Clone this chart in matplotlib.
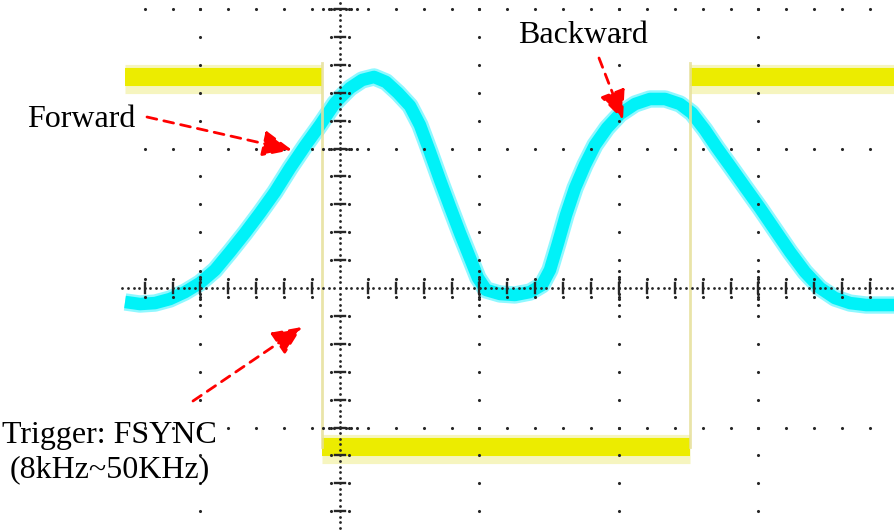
import numpy as np
import matplotlib
matplotlib.use("Agg")
import matplotlib.pyplot as plt
from matplotlib.patches import ArrowStyle

# ---------------- data (screen divisions) ----------------
# cyan trace (scan mirror position), x / y in divisions
cyan_x = [-1.541, -1.434, -1.326, -1.219, -1.111, -1.004, -0.896, -0.789, -0.681, -0.573,
          -0.466, -0.358, -0.251, -0.143, -0.036, 0.072, 0.158, 0.244, 0.330, 0.416,
          0.502, 0.573, 0.645, 0.717, 0.789, 0.860, 0.932, 0.989, 1.047, 1.147,
          1.254, 1.362, 1.448, 1.505, 1.563, 1.620, 1.685, 1.756, 1.828, 1.914,
          2.007, 2.115, 2.222, 2.330, 2.437, 2.523, 2.616, 2.703, 2.796, 2.903,
          3.011, 3.118, 3.226, 3.333, 3.441, 3.548, 3.656, 3.771, 3.990]
cyan_y = [-0.100, -0.115, -0.108, -0.079, -0.029, 0.036, 0.129, 0.258, 0.394, 0.538,
          0.688, 0.860, 1.018, 1.168, 1.326, 1.434, 1.491, 1.513, 1.477, 1.398,
          1.305, 1.168, 0.975, 0.774, 0.581, 0.394, 0.215, 0.072, -0.014, -0.043,
          -0.050, -0.029, 0.022, 0.129, 0.323, 0.523, 0.717, 0.882, 1.025, 1.147,
          1.247, 1.319, 1.355, 1.355, 1.319, 1.254, 1.133, 1.004, 0.875, 0.724,
          0.573, 0.416, 0.258, 0.115, 0.000, -0.072, -0.108, -0.122, -0.122]

# yellow trigger (FSYNC) square wave
yellow_high = 1.513
yellow_low = -1.140
yellow_start, yellow_fall, yellow_rise, yellow_end = -1.541, -0.13, 2.51, 3.99

labels = ["Forward", "Backward", "Trigger: FSYNC", "(8kHz~50KHz)"]

# ---------------- figure ----------------
W, H = 895, 531
PX = 139.5          # pixels per division
X0, Y0 = 340, 288   # pixel position of screen centre

fig = plt.figure(figsize=(W / 100, H / 100), dpi=100)
fig.patch.set_facecolor("white")
ax = fig.add_axes([0, 0, 1, 1])
ax.set_xlim(-X0 / PX, (W - X0) / PX)
ax.set_ylim((Y0 - H) / PX, Y0 / PX)
ax.axis("off")

# yellow trace (halo + core)
for (xa, xb, lvl) in [(yellow_start, yellow_fall, yellow_high),
                      (yellow_fall, yellow_rise, yellow_low),
                      (yellow_rise, yellow_end, yellow_high)]:
    ax.plot([xa, xb], [lvl - 0.012, lvl - 0.012], color="#f6f5bf", lw=21,
            solid_capstyle="butt", zorder=1)
    ax.plot([xa, xb], [lvl, lvl], color="#ecec00", lw=13,
            solid_capstyle="butt", zorder=2)

# cyan trace (halo + core)
ax.plot(cyan_x, cyan_y, color="#8ff8ff", lw=12.5, solid_joinstyle="round",
        solid_capstyle="butt", zorder=3)
ax.plot(cyan_x, cyan_y, color="#00f2f8", lw=9.0, solid_joinstyle="round",
        solid_capstyle="butt", zorder=4)

# yellow edges (faint, above cyan)
for xe in (yellow_fall, yellow_rise):
    ax.plot([xe, xe], [yellow_low, yellow_high + 0.1], color="#e6e09a", lw=2.0,
            alpha=0.85, zorder=5)

# ---------------- graticule ----------------
dot_c = "#262626"
gx, gy = [], []
minor_x = np.round(np.arange(-1.4, 4.01, 0.2), 3)
minor_y = np.round(np.arange(-1.6, 2.01, 0.2), 3)
dense_off = [-0.12, -0.08, -0.04, 0.04, 0.08, 0.12]
# horizontal grid rows
for yr in (2, 1, -1):
    for xv in minor_x:
        gx.append(xv); gy.append(yr)
    for d in dense_off:
        gx.append(d); gy.append(yr)
# vertical grid columns
for xc in (-1, 1, 2, 3):
    for yv in minor_y:
        gx.append(xc); gy.append(yv)
    for d in dense_off:
        gx.append(xc); gy.append(d)
ax.scatter(gx, gy, s=5, color=dot_c, linewidths=0, zorder=10)

# centre axes: dense dots
hx = np.arange(-1.56, 4.0, 0.04)
vy = np.arange(-1.76, 2.08, 0.04)
ax.scatter(hx, np.zeros_like(hx), s=4, color=dot_c, linewidths=0, zorder=10)
ax.scatter(np.zeros_like(vy), vy, s=4, color=dot_c, linewidths=0, zorder=10)

# centre axes: tick marks every 0.2 div
tx = [v for v in minor_x if abs(v) > 1e-6]
for xv in tx:
    ax.plot([xv, xv], [-0.035, 0.035], color=dot_c, lw=1.7, zorder=10)
ax.scatter(tx, [0.065] * len(tx), s=5, color=dot_c, linewidths=0, zorder=10)
ax.scatter(tx, [-0.065] * len(tx), s=5, color=dot_c, linewidths=0, zorder=10)
ty = [v for v in minor_y if abs(v) > 1e-6]
for yv in ty:
    ax.plot([-0.035, 0.035], [yv, yv], color=dot_c, lw=1.7, zorder=10)
ax.scatter([0.065] * len(ty), ty, s=5, color=dot_c, linewidths=0, zorder=10)
ax.scatter([-0.065] * len(ty), ty, s=5, color=dot_c, linewidths=0, zorder=10)

# ---------------- annotations ----------------
font = dict(family=["Liberation Serif", "DejaVu Serif"], fontsize=23, color="black")


def fp(x, y):
    return (x / W, 1 - y / H)


fig.text(*fp(27, 127), labels[0], ha="left", va="baseline", **font)
fig.text(*fp(518, 43), labels[1], ha="left", va="baseline", **font)
fig.text(*fp(109.5, 443), labels[2], ha="center", va="baseline", **font)
fig.text(*fp(110, 477), labels[3], ha="center", va="baseline", **font)

astyle = ArrowStyle("-|>", head_length=1.8, head_width=0.8)
arrows = [((147, 117), (292, 150)),
          ((599, 58), (623, 120)),
          ((193, 401), (302, 327))]
for (sx, sy), (tx_, ty_) in arrows:
    ax.annotate("", xy=(tx_, H - ty_), xytext=(sx, H - sy),
                xycoords="figure pixels", textcoords="figure pixels",
                arrowprops=dict(arrowstyle=astyle, color="#ff0000", lw=2.0,
                                linestyle=(0, (3.6, 2.6)), mutation_scale=10,
                                shrinkA=0, shrinkB=0),
                zorder=20)

fig.savefig("out.png", dpi=100, facecolor="white")
